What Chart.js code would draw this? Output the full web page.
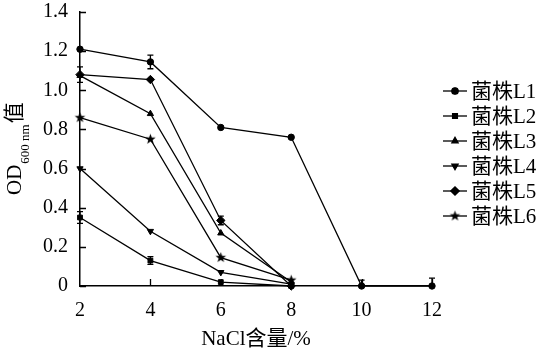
<!DOCTYPE html>
<html>
<head>
<meta charset="utf-8">
<script src="https://cdn.jsdelivr.net/npm/chart.js@4"></script>
<style>
html,body{margin:0;padding:0;background:#fff;}
canvas{display:block;}
</style>
</head>
<body>
<canvas id="c" width="541" height="355"></canvas>
<script>
// ---- data ----
const nacl = [2, 4, 6, 8, 10, 12];
const xTicks = [2, 4, 6, 8, 10, 12];
const yTicks = [0, 0.2, 0.4, 0.6, 0.8, 1.0, 1.2, 1.4];
const seriesNames = ['菌株L1', '菌株L2', '菌株L3', '菌株L4', '菌株L5', '菌株L6'];
const L1 = [1.21, 1.145, 0.81, 0.76, 0, 0];
const L2 = [0.35, 0.13, 0.02, 0, null, null];
const L3 = [1.075, 0.88, 0.27, 0.02, null, null];
const L4 = [0.60, 0.28, 0.07, 0.01, null, null];
const L5 = [1.08, 1.055, 0.335, 0, null, null];
const L6 = [0.86, 0.75, 0.145, 0.03, null, null];
const errL1 = [0, 0.035, 0, 0, 0.03, 0.04];
const errL2 = [0.03, 0.02, 0, 0, null, null];
const errL5 = [0.04, 0, 0.022, 0, null, null];

const SERIF = "'Liberation Serif', 'Times New Roman', 'Noto Sans CJK SC', serif";

// filled five-point star marker
function makeStar(r) {
  const s = Math.ceil(r * 2 + 2);
  const c = document.createElement('canvas');
  c.width = s; c.height = s;
  const g = c.getContext('2d');
  g.fillStyle = '#000';
  g.beginPath();
  for (let i = 0; i < 10; i++) {
    const rad = i % 2 === 0 ? r : r * 0.42;
    const a = -Math.PI / 2 + i * Math.PI / 5;
    const px = s / 2 + rad * Math.cos(a), py = s / 2 + rad * Math.sin(a);
    if (i === 0) g.moveTo(px, py); else g.lineTo(px, py);
  }
  g.closePath();
  g.fill();
  return c;
}
const star = makeStar(5.5);

const values = [L1, L2, L3, L4, L5, L6];
const errors = [errL1, errL2, null, null, errL5, null];
const styles = [
  {pointStyle: 'circle', radius: 3.2, rot: 0},
  {pointStyle: 'rect', radius: 3.4, rot: 0},
  {pointStyle: 'triangle', radius: 3.6, rot: 0},
  {pointStyle: 'triangle', radius: 3.6, rot: 180},
  {pointStyle: 'rectRot', radius: 4.2, rot: 0},
  {pointStyle: star, radius: 5, rot: 0}
];

const datasets = values.map((arr, i) => ({
  label: seriesNames[i],
  data: nacl.map((x, j) => ({x: x, y: arr[j]})),
  borderColor: '#000',
  backgroundColor: '#000',
  borderWidth: 1.3,
  pointStyle: styles[i].pointStyle,
  pointRadius: styles[i].radius,
  pointRotation: styles[i].rot,
  pointBorderWidth: 1,
  pointBackgroundColor: '#000',
  pointBorderColor: '#000',
  spanGaps: false,
  tension: 0,
  clip: false,
  errs: errors[i]
}));

const extras = {
  id: 'extras',
  afterDatasetsDraw(chart) {
    const ctx = chart.ctx;
    const xs = chart.scales.x, ys = chart.scales.y;
    const ca = chart.chartArea;
    ctx.save();
    ctx.strokeStyle = '#000';
    ctx.lineWidth = 1.3;
    // inward tick marks
    ctx.beginPath();
    yTicks.forEach(v => {
      const y = Math.round(ys.getPixelForValue(v)) + 0.5;
      ctx.moveTo(ca.left, y); ctx.lineTo(ca.left + 6, y);
    });
    xTicks.forEach(v => {
      if (v === xs.min) return;
      const x = Math.round(xs.getPixelForValue(v)) + 0.5;
      ctx.moveTo(x, ca.bottom); ctx.lineTo(x, ca.bottom - 7);
    });
    ctx.stroke();
    // error bars
    ctx.beginPath();
    ctx.rect(ca.left - 10, ca.top - 10, ca.right - ca.left + 20, ca.bottom - ca.top + 10);
    ctx.clip();
    ctx.beginPath();
    chart.data.datasets.forEach(ds => {
      if (!ds.errs) return;
      ds.data.forEach((p, j) => {
        const e = ds.errs[j];
        if (p.y == null || !e) return;
        const x = xs.getPixelForValue(p.x);
        const y1 = ys.getPixelForValue(p.y + e), y2 = ys.getPixelForValue(p.y - e);
        ctx.moveTo(x, y1); ctx.lineTo(x, y2);
        ctx.moveTo(x - 3, y1); ctx.lineTo(x + 3, y1);
        if (p.y - e >= 0) { ctx.moveTo(x - 3, y2); ctx.lineTo(x + 3, y2); }
      });
    });
    ctx.stroke();
    ctx.restore();
  },
  afterDraw(chart) {
    const ctx = chart.ctx;
    ctx.save();
    // legend
    ctx.fillStyle = '#000';
    ctx.strokeStyle = '#000';
    ctx.font = "21px " + SERIF;
    ctx.textBaseline = 'middle';
    ctx.textAlign = 'left';
    chart.data.datasets.forEach((ds, i) => {
      const y = 91 + i * 25;
      ctx.lineWidth = 1.3;
      ctx.beginPath();
      ctx.moveTo(443, y); ctx.lineTo(467, y);
      ctx.stroke();
      Chart.helpers.drawPoint(ctx, {
        pointStyle: ds.pointStyle, radius: ds.pointRadius, rotation: ds.pointRotation, borderWidth: 1
      }, 455, y);
      ctx.fill();
      ctx.fillText(ds.label, 471, y + 1);
    });
    // y-axis title with subscript
    ctx.translate(21, 195);
    ctx.rotate(-Math.PI / 2);
    ctx.textBaseline = 'alphabetic';
    ctx.font = "21px " + SERIF;
    ctx.fillText('OD', 0, 0);
    let w = ctx.measureText('OD').width;
    ctx.font = "13px " + SERIF;
    ctx.fillText('600 nm', w + 1, 8);
    w += 1 + ctx.measureText('600 nm').width + 1;
    ctx.font = "21px " + SERIF;
    ctx.fillText('值', w, 0);
    ctx.restore();
  }
};

new Chart(document.getElementById('c'), {
  type: 'line',
  data: {datasets: datasets},
  options: {
    responsive: false,
    animation: false,
    devicePixelRatio: 1,
    layout: {padding: {top: 12, right: 109, left: 0, bottom: 0}},
    plugins: {legend: {display: false}, tooltip: {enabled: false}},
    scales: {
      x: {
        type: 'linear', min: 2, max: 12,
        afterBuildTicks: s => { s.ticks = xTicks.map(v => ({value: v})); },
        afterFit: s => { s.height = 69; s.paddingLeft = 0; s.paddingRight = 0; },
        grid: {display: false},
        border: {display: true, color: '#000', width: 1.5},
        ticks: {color: '#000', font: {family: SERIF, size: 20}, padding: 5},
        title: {display: true, text: 'NaCl含量/%', color: '#000', font: {family: SERIF, size: 21}, padding: {top: 0, bottom: 3}}
      },
      y: {
        type: 'linear', min: 0, max: 1.4,
        afterBuildTicks: s => { s.ticks = yTicks.map(v => ({value: v})); },
        afterFit: s => { s.width = 80; s.paddingTop = 0; s.paddingBottom = 0; },
        grid: {display: false},
        border: {display: true, color: '#000', width: 1.5},
        ticks: {color: '#000', font: {family: SERIF, size: 20}, padding: 4,
          callback: v => v === 0 ? '0' : v.toFixed(1)}
      }
    }
  },
  plugins: [extras]
});
</script>
</body>
</html>
